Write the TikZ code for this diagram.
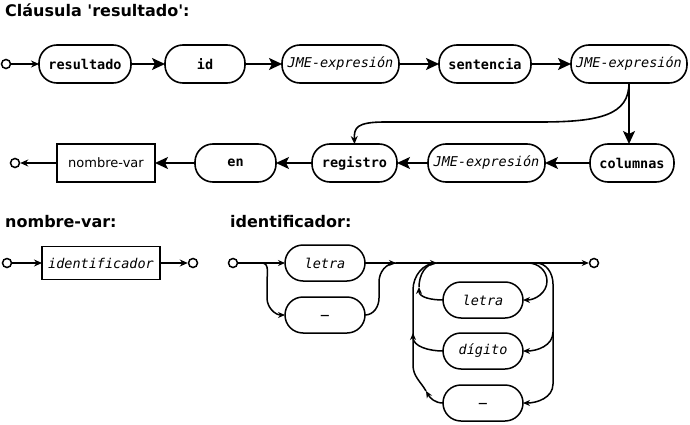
\documentclass[tikz,border=0pt]{standalone}
\usepackage{fontspec}
\setmainfont{DejaVu Sans}
\setmonofont{DejaVu Sans Mono}
\usetikzlibrary{arrows.meta,positioning}

\begin{document}
\begin{tikzpicture}[
  x=1pt,y=-1pt,
  term/.style={draw,line width=1.6pt,rounded corners=18pt,minimum height=38pt,
               inner sep=0pt,outer sep=0pt,
               font=\fontsize{13.5}{15}\selectfont\ttfamily\bfseries},
  nterm/.style={term,font=\fontsize{13.5}{15}\selectfont\ttfamily\itshape},
  ref/.style={draw,line width=1.6pt,minimum height=38pt,inner sep=0pt,
              outer sep=0pt,font=\fontsize{13}{15}\selectfont},
  rterm/.style={term,line width=1.5pt,minimum width=80pt,minimum height=36pt},
  rnterm/.style={nterm,line width=1.5pt,minimum width=80pt,minimum height=36pt},
  dot/.style={draw,circle,line width=1.5pt,minimum size=9pt,inner sep=0pt},
  head/.style={anchor=base west,inner sep=0pt,
               font=\fontsize{16}{18}\selectfont\bfseries},
  arr/.style={-{Stealth[length=13pt,width=12pt,inset=3pt]},line width=1.8pt},
  sarr/.style={-{Stealth[length=8pt,width=7pt]},line width=1.6pt},
  rail/.style={line width=1.5pt},
  rarr/.style={rail,-{Stealth[length=7pt,width=6pt]}}
]
\useasboundingbox (0,0) rectangle (690,425);

% clausula resultado
\node[head] at (5,17) {Cláusula \textquotesingle resultado\textquotesingle:};
\node[dot] (s1) at (6,64) {};
\node[term,minimum width=92pt] (res) at (85,64) {resultado};
\node[term,minimum width=80pt,right=34pt of res] (id) {id};
\node[nterm,minimum width=117pt,right=37pt of id] (jme1) {JME-expresión};
\node[term,minimum width=92pt,right=40pt of jme1] (sent) {sentencia};
\node[nterm,minimum width=116pt,right=40pt of sent] (jme2) {JME-expresión};

\node[term,minimum width=84pt] (col) at (632,163) {columnas};
\node[nterm,minimum width=117pt,left=45pt of col] (jme3) {JME-expresión};
\node[term,minimum width=85pt,left=31pt of jme3] (reg) {registro};
\node[term,minimum width=81pt,left=36pt of reg] (en) {en};
\node[ref,minimum width=98pt,left=40pt of en] (nv) {nombre-var};
\node[dot] (e1) at (15,163) {};
\coordinate (bend) at (540,122);

\draw[sarr] (s1) -- (res);
\draw[arr] (res) -- (id);
\draw[arr] (id) -- (jme1);
\draw[arr] (jme1) -- (sent);
\draw[arr] (sent) -- (jme2);
\draw[arr] (jme2.south) -- (jme2.south |- col.north);
\draw[sarr] (jme2.south) .. controls +(0,32) and (600,122) .. (bend)
  -- (385,122) .. controls (356,122) and (354,128) .. (reg.north);
\draw[arr] (col) -- (jme3);
\draw[arr] (jme3) -- (reg);
\draw[arr] (reg) -- (en);
\draw[arr] (en) -- (nv);
\draw[sarr] (nv) -- (e1);

% nombre-var
\node[head] at (5,227) {nombre-var:};
\node[dot] (s2) at (7,263) {};
\node[ref,minimum width=118pt,minimum height=33pt,
      font=\fontsize{13.5}{15}\selectfont\ttfamily\itshape] (idf) at (101,263) {identificador};
\node[dot] (e2) at (193,263) {};
\draw[sarr] (s2) -- (idf);
\draw[sarr] (idf) -- (e2);

% identificador
\node[head] at (230,227) {identificador:};
\node[dot] (s3) at (233,263) {};
\node[rnterm] (let1) at (325,263) {letra};
\node[rterm] (us1) at (325,315) {\_};
\node[rnterm] (let2) at (483,300) {letra};
\node[rnterm] (dg) at (483,351) {dígito};
\node[rterm] (us2) at (483,403) {\_};
\node[dot] (e3) at (594,263) {};
\coordinate (a1) at (262,263);
\coordinate (a2) at (396,263);
\coordinate (a3) at (437,263);
\coordinate (b1) at (528,263);
\coordinate (b2) at (536,263);

\draw[rarr] (s3) -- (let1);
\draw[rarr] (a1) to[out=0,in=90] (267,282) -- (267,298) to[out=-90,in=180] (us1.west);
\draw[rail] (us1.east) to[out=0,in=-90] (379,298) -- (379,282) to[out=90,in=180] (a2);
\draw[rarr] (let1) -- (a2);
\draw[rarr] (a2) -- (a3);
\draw[rarr] (a3) -- (e3);

\draw[rarr] (b1) to[out=0,in=90] (547,281) to[out=-90,in=0] (let2.east);
\draw[rail] (b2) to[out=0,in=90] (553,284) -- (553,384);
\draw[rarr] (553,384) to[out=-90,in=0] (us2.east);
\draw[rarr] (553,332) to[out=-90,in=0] (dg.east);

\draw[rarr] (let2.west) to[out=180,in=-90] (419,287);
\draw[rail] (419,287) to[out=90,in=180] (a3);
\draw[rarr] (dg.west) to[out=180,in=-90] (413,333);
\draw[rarr] (us2.west) to[out=180,in=-60] (426,391);
\draw[rail] (426,391) to[out=120,in=-90] (413,365) -- (413,290) to[out=90,in=180] (a3);
\end{tikzpicture}
\end{document}
